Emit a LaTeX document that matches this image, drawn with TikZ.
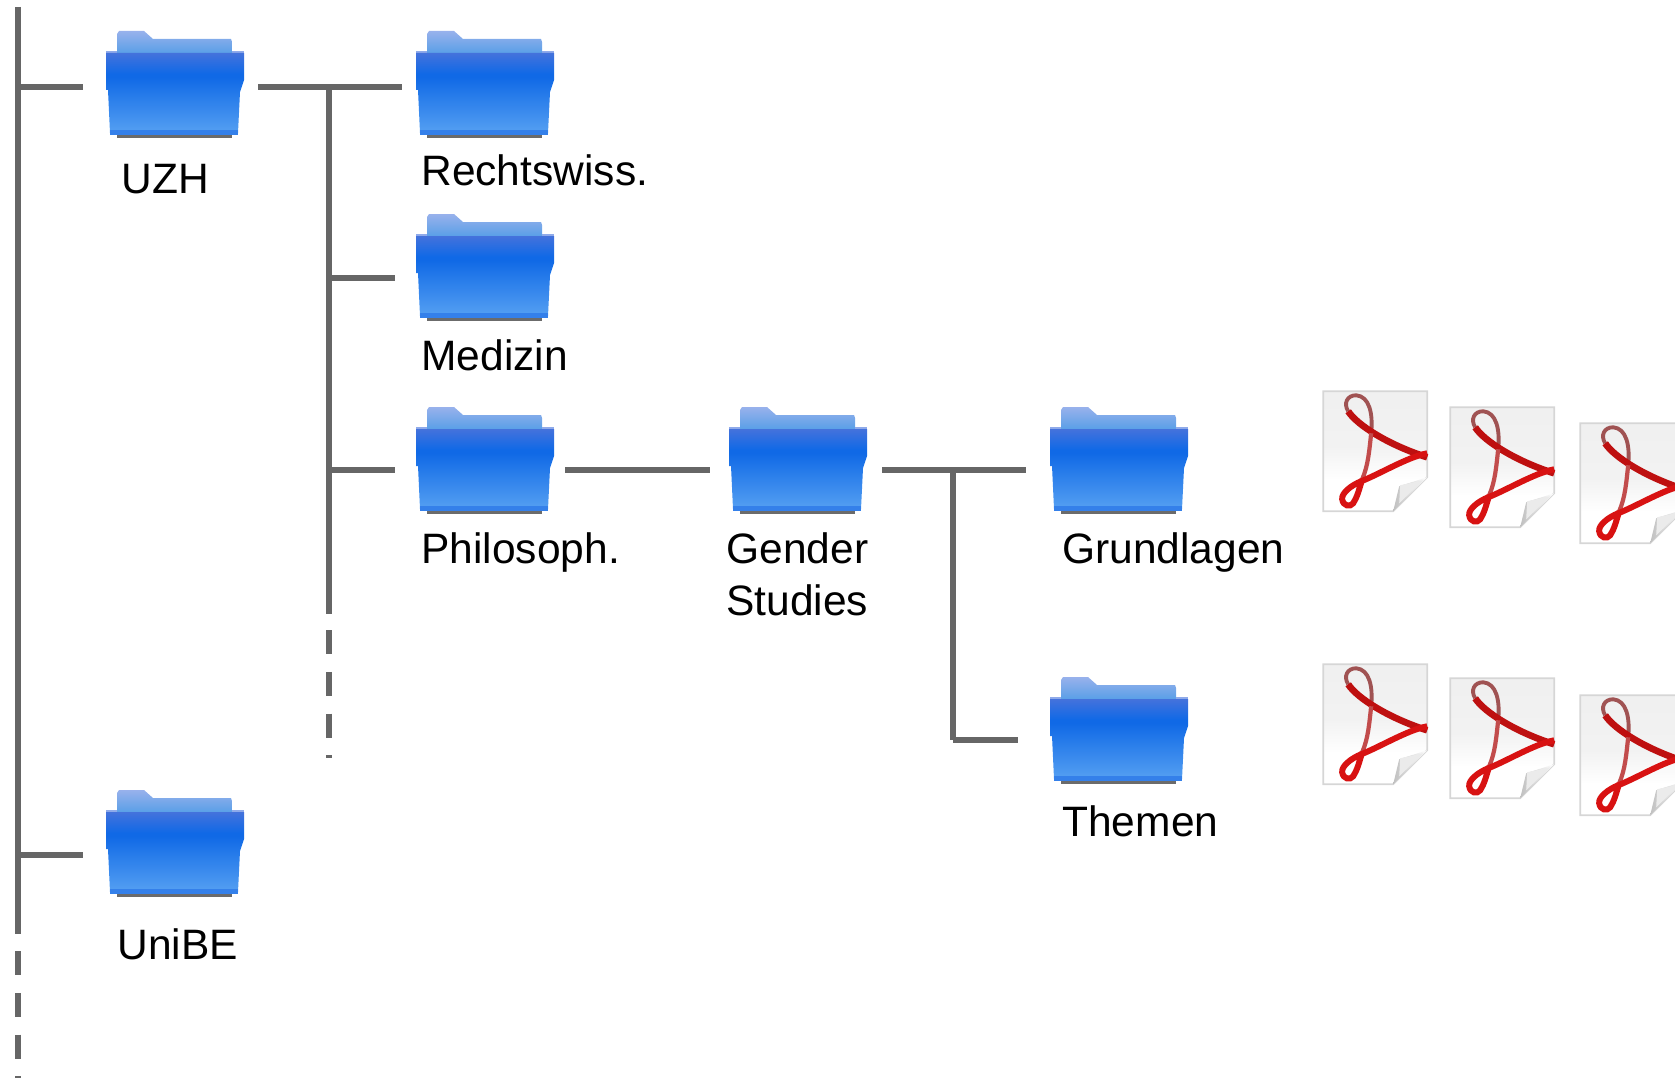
\documentclass[tikz,border=0pt]{standalone}
\usepackage{fontspec}
\setmainfont{Liberation Sans}
\usepackage{xcolor}
\usetikzlibrary{calc,positioning}
\definecolor{branchgray}{HTML}{666666}
\definecolor{pdfred}{HTML}{D81212}
\definecolor{folderA}{HTML}{4472DC}
\definecolor{folderB}{HTML}{1069E6}
\definecolor{folderC}{HTML}{55A0F2}
\pgfdeclareverticalshading{folderfront}{100bp}{color(0bp)=(folderC); color(25bp)=(folderC); color(60bp)=(folderB); color(62bp)=(folderB); color(75bp)=(folderA); color(100bp)=(folderA)}
\pgfdeclareverticalshading{pdfpage}{100bp}{color(0bp)=(white); color(25bp)=(white); color(38bp)=(white); color(52bp)=(black!5); color(75bp)=(black!6); color(100bp)=(black!6)}
\tikzset{
  branch/.style={draw=branchgray, line width=3.4pt},
  folderbox/.style={draw=none, fill=none, rectangle, minimum width=78.2pt, minimum height=62.4pt, inner sep=0pt, outer ysep=0pt, outer xsep=7.4pt},
  pdfbox/.style={draw=none, fill=none, rectangle, minimum width=59pt, minimum height=68pt, inner sep=0pt, outer sep=0pt},
  folderlabel/.style={anchor=base west, inner sep=0pt, font=\fontsize{24.2}{29}\selectfont},
  folder/.pic={
    \fill[black!58] (-58,46) rectangle (57,52);
    \shade[top color=folderA!55!white, bottom color=folderA!80!white!85!cyan] (-58,-33) -- (-58,-52) -- (-56,-55) -- (-31,-55) -- (-22,-47) -- (56,-47) -- (57,-44) -- (57,-33) -- cycle;
    \fill[folderA!60!white] (-69,-35) rectangle (-58,-31);
    \fill[folderA!60!white] (57,-35) rectangle (69,-31);
    \shade[shading=folderfront] (-69,-33) -- (69,-33) -- (69,-6) -- (65,6) -- (63,47) -- (-65,47) -- (-67,4) -- (-69,4) -- cycle;
    \fill[folderB!85!white] (-65,44) rectangle (63,49);
  },
  pdficon/.pic={
    \shade[shading=pdfpage, draw=black!16, line width=1pt] (0,0) -- (104,0) -- (104,86) -- (70,120) -- (0,120) -- cycle;
    \shade[left color=black!25, right color=white] (70,120) -- (76,95) -- (104,86) -- cycle;
    \fill[white!92!black] (77,94) -- (100,89) -- (76,112) -- cycle;
    \draw[pdfred!55!black!70!white, line width=2.2pt] (48,42) .. controls (50,22) and (46,5) .. (33,4) .. controls (24,4) and (20,12) .. (25,20);
    \draw[pdfred!88!black, line width=3.8pt] (25,20) .. controls (34,34) and (66,54) .. (104,66);
    \draw[pdfred!70!white!85!black, line width=2.4pt] (48,42) .. controls (46,60) and (45,74) .. (39,88);
    \draw[pdfred, line width=3.4pt] (104,62) .. controls (84,66) and (58,82) .. (38,90) .. controls (28,94) and (18,102) .. (19,108) .. controls (20,115) and (27,116) .. (30,112) .. controls (34,106) and (36,98) .. (39,88);
  }
}

\begin{document}
\begin{tikzpicture}[x=0.02cm,y=-0.02cm]

    \clip (0,0) rectangle (1675,1078);

% the folders

    \node[folderbox] (uzh) at (175,86) {};
    \node[folderbox] (rechtswiss) at (485,86) {};
    \node[folderbox] (medizin) at (485,269) {};
    \node[folderbox] (philosoph) at (485,462) {};
    \node[folderbox] (gender) at (798,462) {};
    \node[folderbox] (grundlagen) at (1119,462) {};
    \node[folderbox] (themen) at (1119,732) {};
    \node[folderbox] (unibe) at (175,845) {};
    \pic at (uzh) {folder};
    \pic at (rechtswiss) {folder};
    \pic at (medizin) {folder};
    \pic at (philosoph) {folder};
    \pic at (gender) {folder};
    \pic at (grundlagen) {folder};
    \pic at (themen) {folder};
    \pic at (unibe) {folder};

% the labels

    \node[folderlabel] (uzhlabel) at (121,193) {UZH};
    \node[folderlabel] (rechtslabel) at (421,185) {Rechtswiss.};
    \node[folderlabel] (medizinlabel) at (421,370) {Medizin};
    \node[folderlabel] (philolabel) at (421,563) {Philosoph.};
    \node[folderlabel] (genderlabel) at (726,563) {Gender};
    \node[folderlabel] (studieslabel) at (726,615) {Studies};
    \node[folderlabel] (grundlabel) at (1062,563) {Grundlagen};
    \node[folderlabel] (themenlabel) at (1062,836) {Themen};
    \node[folderlabel] (unibelabel) at (117,959) {UniBE};

% the tree lines

    \coordinate (maintop) at (18,7);
    \coordinate (mainend) at (18,934);
    \coordinate (maindash) at (18,951);
    \coordinate (mainfoot) at (18,1078);
    \coordinate (facttop) at (329,87);
    \coordinate (factend) at (329,614);
    \coordinate (factdash) at (329,630);
    \coordinate (factfoot) at (329,758);
    \coordinate (uzhjoint) at (18,87);
    \coordinate (uzhin) at (83,87);
    \coordinate (uzhout) at (258,87);
    \coordinate (rechtsin) at (402,87);
    \coordinate (unibejoint) at (18,855);
    \coordinate (unibein) at (83,855);
    \coordinate (medjoint) at (329,278);
    \coordinate (medend) at (395,278);
    \coordinate (philojoint) at (329,470);
    \coordinate (philoend) at (395,470);
    \coordinate (philoout) at (565,470);
    \coordinate (genderin) at (710,470);
    \coordinate (genderout) at (882,470);
    \coordinate (gendertop) at (953,470);
    \coordinate (grundin) at (1026,470);
    \coordinate (genderend) at (953,740);
    \coordinate (themenin) at (1018,740);

    \draw[branch] (maintop) -- (mainend);
    \draw[branch, dash pattern=on 13.6pt off 10.2pt] (maindash) -- (mainfoot);
    \draw[branch] (facttop) -- (factend);
    \draw[branch, dash pattern=on 13.6pt off 10.2pt] (factdash) -- (factfoot);
    \draw[branch] (gendertop) -- (genderend);

    \draw[branch] (uzhjoint) -- (uzhin);
    \draw[branch] (unibejoint) -- (unibein);
    \draw[branch] (uzhout) -- (rechtsin);
    \draw[branch] (medjoint) -- (medend);
    \draw[branch] (philojoint) -- (philoend);
    \draw[branch] (philoout) -- (genderin);
    \draw[branch] (genderout) -- (grundin);
    \draw[branch] (genderend) -- (themenin);

% the pdf files

    \node[pdfbox] (pdfa) at (1375,451) {};
    \node[pdfbox] (pdfb) at (1502,467) {};
    \node[pdfbox] (pdfc) at (1632,483) {};
    \node[pdfbox] (pdfd) at (1375,724) {};
    \node[pdfbox] (pdfe) at (1502,738) {};
    \node[pdfbox] (pdff) at (1632,755) {};
    \pic at (pdfa.north west) {pdficon};
    \pic at (pdfb.north west) {pdficon};
    \pic at (pdfc.north west) {pdficon};
    \pic at (pdfd.north west) {pdficon};
    \pic at (pdfe.north west) {pdficon};
    \pic at (pdff.north west) {pdficon};

\end{tikzpicture}
\end{document}
